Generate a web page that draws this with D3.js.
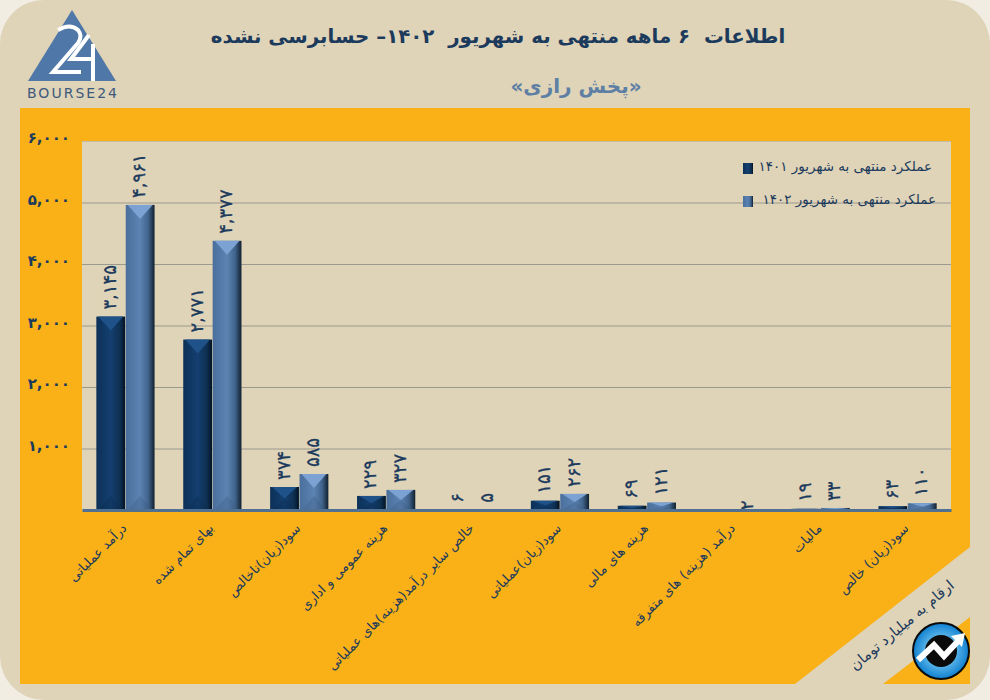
<!DOCTYPE html>
<html lang="fa">
  <head>
    <title>پخش رازی</title>
    <meta charset="utf-8"/>
    <script src="https://d3js.org/d3.v7.min.js"></script>
    <style>
      html, body { margin: 0; padding: 0; background: #f1ede3; }
      svg { display: block; }
      text { font-family: "DejaVu Sans", sans-serif; white-space: pre; }
    </style>
  </head>

  <body>
    <div id="chart"></div>
    <script>
    var categories = [
      "درآمد عملیاتی",
      "بهای تمام شده",
      "سود(زیان)ناخالص",
      "هزینه عمومی و اداری",
      "خالص سایر درآمد(هزینه)های عملیاتی",
      "سود(زیان)عملیاتی",
      "هزینه های مالی",
      "درآمد (هزینه) های متفرقه",
      "مالیات",
      "سود(زیان) خالص"
    ];
    var values1401 = [3145, 2771, 374, 229, 6, 151, 69, null, 19, 63];
    var values1402 = [4961, 4377, 585, 327, 5, 262, 121, 2, 33, 110];
    var seriesNames = ["عملکرد منتهی به شهریور ۱۴۰۱", "عملکرد منتهی به شهریور ۱۴۰۲"];
    var yTicks = [1000, 2000, 3000, 4000, 5000, 6000];
    var title = "اطلاعات  ۶ ماهه منتهی به شهریور  ۱۴۰۲– حسابرسی نشده";
    var subtitle = "«پخش رازی»";
    var unitNote = "ارقام به میلیارد تومان";

    var width = 990, height = 700;
    var plot = {left: 82, right: 951, top: 141, bottom: 510};
    var beige = "#dfd3b8", orange = "#f9b117", navy = "#1b3a5c";

    function persian(n)
    {
      return d3.format(",")(n).replace(/\d/g, function(d) { return "۰۱۲۳۴۵۶۷۸۹"[+d]; });
    }

    var svg = d3.select("#chart").append("svg")
        .attr("width", width)
        .attr("height", height);

    var defs = svg.append("defs");

    function barGradient(id, stops)
    {
      var g = defs.append("linearGradient").attr("id", id);
      stops.forEach(function(s) {
        g.append("stop").attr("offset", s[0]).attr("stop-color", s[1]);
      });
    }
    barGradient("bar0", [[0, "#0c3158"], [0.5, "#143f70"], [0.82, "#0e3052"], [1, "#041322"]]);
    barGradient("bar1", [[0, "#4a6f9c"], [0.5, "#5c83b2"], [0.78, "#41648c"], [1, "#11202f"]]);

    // page and orange panel with its cut corner
    svg.append("rect")
        .attr("width", width).attr("height", height)
        .attr("rx", 44)
        .attr("fill", beige);
    svg.append("polygon")
        .attr("points", "20,108 970,108 970,547 795,684 20,684")
        .attr("fill", orange);
    svg.append("polygon")
        .attr("points", "970,617 883,684 970,684")
        .attr("fill", orange);
    svg.append("rect")
        .attr("x", plot.left).attr("y", plot.top)
        .attr("width", plot.right - plot.left).attr("height", plot.bottom - plot.top)
        .attr("fill", beige);

    // titles
    svg.append("text")
        .attr("x", 498).attr("y", 43)
        .attr("direction", "rtl")
        .attr("text-anchor", "middle")
        .attr("font-size", 19.8).attr("font-weight", "bold")
        .attr("fill", navy)
        .text(title);
    svg.append("text")
        .attr("x", 576).attr("y", 93)
        .attr("direction", "rtl")
        .attr("text-anchor", "middle")
        .attr("font-size", 20).attr("font-weight", "bold")
        .attr("fill", "#5d7fa4")
        .text(subtitle);

    // scales
    var x = d3.scaleBand()
        .domain(categories)
        .range([plot.left, plot.right])
        .paddingInner(0.33)
        .paddingOuter(0.165);
    var xSeries = d3.scaleBand()
        .domain([0, 1])
        .range([0, x.bandwidth()])
        .paddingInner(0.02);
    var y = d3.scaleLinear()
        .domain([0, 6000])
        .range([plot.bottom, plot.top]);

    // y axis, the ticks double as gridlines
    var yAxis = svg.append("g")
        .attr("transform", "translate(" + plot.left + ",0)")
        .call(d3.axisLeft(y)
          .tickValues(yTicks)
          .tickSize(-(plot.right - plot.left))
          .tickPadding(12)
          .tickFormat(persian));
    yAxis.select(".domain").remove();
    yAxis.selectAll(".tick line")
        .attr("stroke", "#9a9a8e")
        .attr("stroke-width", 1)
        .attr("stroke-opacity", function(d) { return d === 6000 ? 0.4 : 1; });
    yAxis.selectAll(".tick text")
        .attr("font-family", "DejaVu Sans")
        .attr("font-size", 15).attr("font-weight", "bold")
        .attr("dy", "0.12em")
        .attr("fill", navy);

    // bars
    var series = [values1401, values1402];
    series.forEach(function(values, s) {
      var rows = categories.map(function(c, i) { return {cat: c, value: values[i]}; })
          .filter(function(d) { return d.value !== null; });
      var g = svg.append("g");
      var bx = function(d) { return x(d.cat) + xSeries(s); };
      var bw = xSeries.bandwidth();
      var bevel = function(d) { return Math.min((plot.bottom - y(d.value)) * 0.5, 14); };

      g.selectAll("rect").data(rows).enter().append("rect")
          .attr("x", bx)
          .attr("y", function(d) { return y(d.value); })
          .attr("width", bw)
          .attr("height", function(d) { return plot.bottom - y(d.value); })
          .attr("fill", "url(#bar" + s + ")");
      // top bevel highlight
      g.selectAll("polygon.top").data(rows).enter().append("polygon")
          .attr("class", "top")
          .attr("points", function(d) {
            var top = y(d.value), l = bx(d);
            return [[l + 2, top], [l + bw - 2, top], [l + bw / 2, top + bevel(d)]].join(" ");
          })
          .attr("fill", s === 0 ? "#1f5288" : "#7ba2d2");
      // faint bottom bevel
      g.selectAll("polygon.bottom").data(rows).enter().append("polygon")
          .attr("class", "bottom")
          .attr("points", function(d) {
            var l = bx(d);
            return [[l + 2, plot.bottom], [l + bw - 2, plot.bottom], [l + bw / 2, plot.bottom - bevel(d)]].join(" ");
          })
          .attr("fill", s === 0 ? "#0a2a4c" : "#3a5a82")
          .attr("fill-opacity", 0.3);
      g.selectAll("text").data(rows).enter().append("text")
          .attr("transform", function(d) {
            // the tiny value sits on the axis in the reference
            var gap = d.value < 5 ? 0 : 7;
            return "translate(" + (bx(d) + bw / 2 + 5) + "," + (y(d.value) - gap) + ") rotate(-90)";
          })
          .attr("font-size", 18)
          .attr("stroke", navy).attr("stroke-width", 0.3)
          .attr("fill", navy)
          .text(function(d) { return persian(d.value); });
    });

    // x axis with slanted category labels
    var xAxis = svg.append("g")
        .attr("transform", "translate(0," + plot.bottom + ")")
        .call(d3.axisBottom(x).tickSize(0).tickPadding(0));
    xAxis.select(".domain").attr("stroke", "#4f7090").attr("stroke-width", 3);
    xAxis.selectAll(".tick text")
        .attr("direction", "rtl")
        .attr("text-anchor", "start")
        .attr("dy", 0).attr("y", 0)
        .attr("transform", "translate(2,19) rotate(-45)")
        .attr("font-family", "DejaVu Sans")
        .attr("font-size", 13)
        .attr("fill", navy);

    // legend
    var legend = svg.append("g").selectAll("g").data(seriesNames).enter().append("g")
        .attr("transform", function(d, i) { return "translate(0," + (i * 33) + ")"; });
    legend.append("rect")
        .attr("x", 743).attr("y", 163).attr("width", 10).attr("height", 11)
        .attr("fill", function(d, i) { return "url(#bar" + i + ")"; });
    legend.append("text")
        .attr("x", function(d, i) { return 932 + i * 4; }).attr("y", 171)
        .attr("direction", "rtl")
        .attr("text-anchor", "start")
        .attr("font-size", 13.5)
        .attr("fill", navy)
        .text(function(d) { return d; });

    // unit note on the cut corner
    svg.append("text")
        .attr("transform", "translate(955,587) rotate(-40)")
        .attr("direction", "rtl")
        .attr("text-anchor", "start")
        .attr("font-size", 14.5)
        .attr("fill", navy)
        .text(unitNote);

    // logo
    var logo = svg.append("g");
    logo.append("polygon").attr("points", "72,10 28,81 116,81").attr("fill", "#4f78a8");
    logo.append("path")
        .attr("d", "M58,30 Q70,23 78,30 Q83,36 78,43 L53,72 L81,72")
        .attr("fill", "none").attr("stroke", "#fff").attr("stroke-width", 4);
    logo.append("path")
        .attr("d", "M89,35 L71,59 L93,59 M93,44 L93,81")
        .attr("fill", "none").attr("stroke", "#fff").attr("stroke-width", 4);
    logo.append("text")
        .attr("x", 27).attr("y", 98)
        .attr("font-size", 14)
        .attr("textLength", 90)
        .attr("fill", "#3d5a7d")
        .text("BOURSE24");

    // round badge
    var badgeGrad = defs.append("radialGradient").attr("id", "badge");
    badgeGrad.append("stop").attr("offset", 0.3).attr("stop-color", "#7fd0f5");
    badgeGrad.append("stop").attr("offset", 1).attr("stop-color", "#0f7fd0");
    var badge = svg.append("g").attr("transform", "translate(941,651)");
    badge.append("circle").attr("r", 28).attr("fill", "url(#badge)").attr("stroke", "#0b0b0b").attr("stroke-width", 2);
    badge.append("circle").attr("r", 16).attr("fill", "#0b0b0b");
    badge.append("path")
        .attr("d", "M-23,9 L-7,-6 L3,5 L19,-12")
        .attr("fill", "none").attr("stroke", "#fff").attr("stroke-width", 6);
    badge.append("polygon").attr("points", "24,-18 10,-15 21,-4").attr("fill", "#fff");
    </script>
  </body>
</html>
